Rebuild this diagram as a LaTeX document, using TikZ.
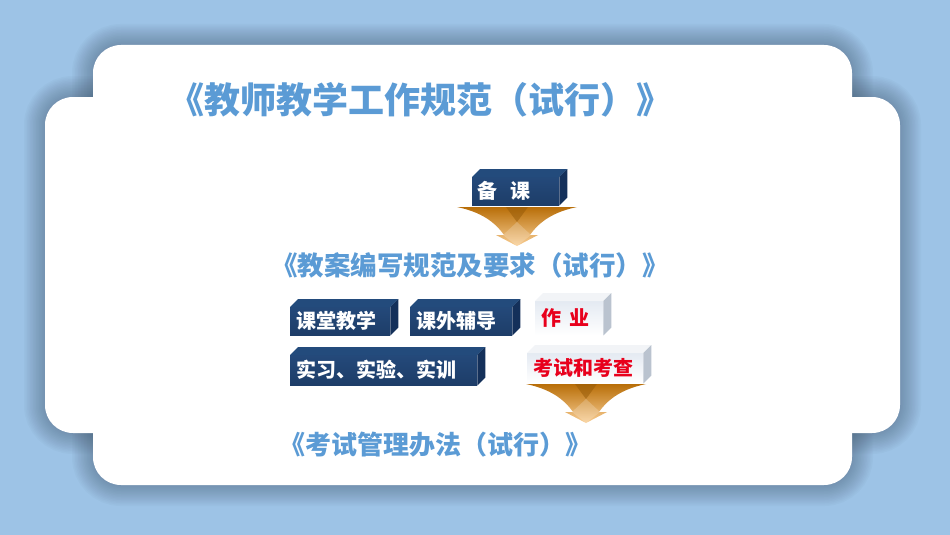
\documentclass[tikz,border=0pt]{standalone}
\usepackage{fontspec}
\newfontfamily\cjk{Noto Sans CJK SC}
\definecolor{bgc}{HTML}{9DC3E6}
\definecolor{shadowc}{HTML}{3C5064}
\definecolor{titlec}{HTML}{5B9BD5}
\definecolor{navyF}{HTML}{1D3D68}
\definecolor{navyFt}{HTML}{24497A}
\definecolor{navyT}{HTML}{234B7C}
\definecolor{navyS}{HTML}{14305A}
\definecolor{lightF}{HTML}{E4EAF2}
\definecolor{lightT}{HTML}{F2F4F7}
\definecolor{lightS}{HTML}{BAC3CF}
\definecolor{redc}{HTML}{E8001C}
\definecolor{arrA}{HTML}{B86E08}
\definecolor{arrB}{HTML}{F7A014}
\definecolor{arrC}{HTML}{F9CE94}
\newcommand\boxfaces[3]{%
  \fill[#2] (#1.north west) -- ++(8,-8) -- ([shift={(8,-8)}]#1.north east) -- (#1.north east) -- cycle;
  \fill[#3] (#1.north east) -- ++(8,-8) -- ([shift={(8,-8)}]#1.south east) -- (#1.south east) -- cycle;}
\newcommand\downarrowshape[2]{% center x, top y
  \shade[top color=arrA, middle color=arrB, bottom color=arrC]
    ({#1-60},#2) .. controls ({#1-36},{#2+5}) and ({#1-22},{#2+15}) .. ({#1-13},{#2+28})
    -- ({#1-21},{#2+28}) -- (#1,{#2+39}) -- ({#1+21},{#2+28}) -- ({#1+13},{#2+28})
    .. controls ({#1+22},{#2+15}) and ({#1+36},{#2+5}) .. ({#1+60},#2) -- cycle;
  \fill[arrA!80!black, opacity=0.5] ({#1-11},#2) -- (#1,{#2+15}) -- ({#1+11},#2) -- cycle;
  \fill[white, opacity=0.2] (#1,{#2+15}) -- ({#1+14},{#2+28}) -- (#1,{#2+39}) -- ({#1-14},{#2+28}) -- cycle;}
\begin{document}
\begin{tikzpicture}[x=1pt,y=-1pt,
  navybox/.style={draw=none, top color=navyFt, bottom color=navyF, text=white,
    font=\cjk\bfseries\fontsize{20}{20}\selectfont, inner ysep=0pt, inner xsep=6pt,
    anchor=north west, align=left},
  lightbox/.style={draw=none, top color=lightF, bottom color=white, text=redc,
    font=\cjk\bfseries\fontsize{20}{20}\selectfont, inner ysep=0pt, inner xsep=6pt,
    anchor=north west, align=left},
  titletext/.style={text=titlec, inner sep=0pt}]
\useasboundingbox (0,0) rectangle (950,535);
\fill[bgc] (0,0) rectangle (950,535);
% shadow
\foreach \w in {3,6,...,42} {
  \draw[line width=\w pt, draw=shadowc, opacity=0.032, rounded corners=28pt] (93,45) rectangle (852,485);
  \draw[line width=\w pt, draw=shadowc, opacity=0.032, rounded corners=28pt] (45,97) rectangle (900,433);
}
% white panel
\fill[white, rounded corners=28pt] (93,45) rectangle (852,485);
\fill[white, rounded corners=28pt] (45,97) rectangle (900,433);
% titles
\node[titletext, font=\cjk\bfseries\fontsize{36}{36}\selectfont] (t1) at (420,100) {《教师教学工作规范（试行）》};
\node[titletext, font=\cjk\bfseries\fontsize{26.5}{26.5}\selectfont] (t2) at (470,265) {《教案编写规范及要求（试行）》};
\node[titletext, font=\cjk\bfseries\fontsize{26}{26}\selectfont] (t3) at (435,445) {《考试管理办法（试行）》};
% arrows
\downarrowshape{517}{207}
\downarrowshape{586}{384}
% boxes
\node[navybox, text width=77pt, minimum height=28pt, inner xsep=5pt] (bk) at (472,177) {备\hspace{13pt}课};
\boxfaces{bk}{navyT}{navyS}
\node[navybox, text width=88pt, minimum height=28pt] (kt) at (290,307) {课堂教学};
\boxfaces{kt}{navyT}{navyS}
\node[navybox, text width=90pt, minimum height=28pt] (kw) at (410,307) {课外辅导};
\boxfaces{kw}{navyT}{navyS}
\node[lightbox, text width=56pt, minimum height=34pt] (zy) at (535,301) {作\hspace{8pt}业};
\boxfaces{zy}{lightT}{lightS}
\node[navybox, text width=175pt, minimum height=30pt] (sx) at (290,355) {实习、实验、实训};
\boxfaces{sx}{navyT}{navyS}
\node[lightbox, text width=104pt, minimum height=30pt] (ks) at (527,353) {考试和考查};
\boxfaces{ks}{lightT}{lightS}
\end{tikzpicture}
\end{document}
